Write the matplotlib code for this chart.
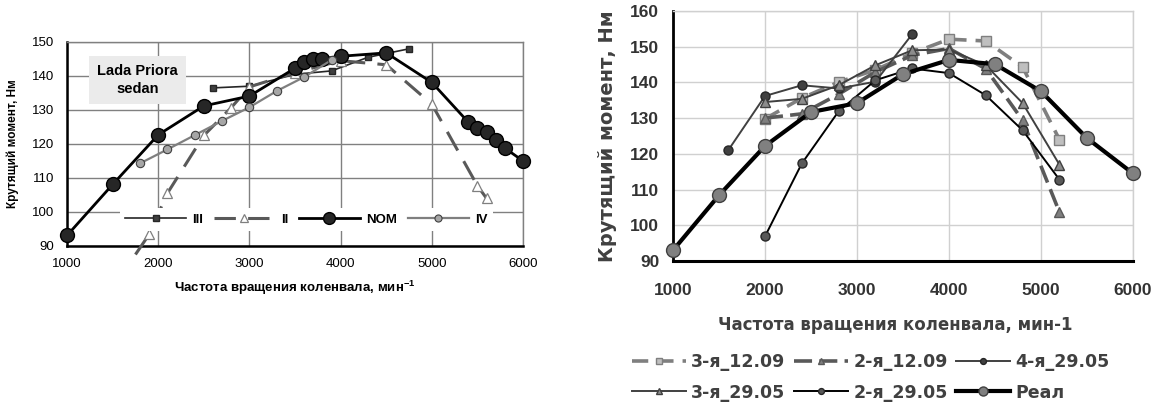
import matplotlib.pyplot as plt
import numpy as np

plt.rcParams['mathtext.fontset'] = 'custom'
plt.rcParams['mathtext.rm'] = 'Liberation Sans'
plt.rcParams['mathtext.bf'] = 'Liberation Sans:bold'

# ---- left chart: Lada Priora sedan
rpm_III = [2600, 3000, 3500, 3900, 4300, 4750]
tq_III = [136.5, 137.0, 140.5, 141.5, 145.5, 148.0]

rpm_II = [1750, 1900, 2100, 2500, 2800, 3000, 3500, 4000, 4500, 5000, 5500, 5600]
tq_II = [87.5, 93.4, 105.5, 122.5, 130.7, 136.8, 141.0, 144.5, 143.3, 131.7, 107.7, 104.0]

rpm_NOM = [1000, 1500, 2000, 2500, 3000, 3500, 3600, 3700, 3800, 4000, 4500,
           5000, 5400, 5500, 5600, 5700, 5800, 6000]
tq_NOM = [93.1, 108.1, 122.7, 131.2, 134.1, 142.3, 144.2, 145.1, 145.1, 145.8, 146.8,
          138.1, 126.4, 124.8, 123.5, 121.2, 118.8, 115.0]

rpm_IV = [1800, 2100, 2400, 2700, 3000, 3300, 3600, 3900]
tq_IV = [114.3, 118.4, 122.6, 126.8, 130.8, 135.6, 139.7, 144.7]

# ---- right chart
rpm_r = [2000, 2400, 2800, 3200, 3600, 4000, 4400, 4800, 5200]
tq_3_1209 = [129.8, 135.6, 140.1, 143.5, 148.2, 152.1, 151.6, 144.3, 124.0]
tq_2_1209 = [130.0, 131.2, 136.7, 142.9, 147.6, 149.5, 143.8, 129.4, 103.7]
tq_3_2905 = [134.5, 135.4, 139.2, 144.8, 149.0, 149.2, 144.8, 134.2, 117.0]
tq_2_2905 = [96.9, 117.3, 131.9, 140.6, 143.9, 142.6, 136.4, 126.6, 112.8]
rpm_4_2905 = [1600, 2000, 2400, 2800, 3200, 3600]
tq_4_2905 = [121.0, 136.2, 139.2, 138.3, 140.2, 153.5]
rpm_real = [1000, 1500, 2000, 2500, 3000, 3500, 4000, 4500, 5000, 5500, 6000]
tq_real = [93.0, 108.4, 122.2, 131.7, 134.2, 142.3, 146.3, 145.1, 137.5, 124.4, 114.5]

fig = plt.figure(figsize=(11.58, 4.05), dpi=100)

# ================= left =================
ax1 = fig.add_axes([0.0579, 0.3926, 0.3938, 0.5037])
lf = 'Liberation Sans'

ax1.plot(rpm_III, tq_III, color='#262626', lw=1.2, marker='s', ms=5,
         mfc='#404040', mec='#262626', label='III', zorder=3)
ax1.plot(rpm_II, tq_II, color='#595959', lw=2.2, dashes=(7, 4), marker='^', ms=7,
         mfc='white', mec='#7f7f7f', mew=0.9, label='II', clip_on=False,
         markevery=list(range(1, len(rpm_II))), zorder=3)
ax1.plot(rpm_NOM, tq_NOM, color='black', lw=2, marker='o', ms=10,
         mfc='#262626', mec='black', label='NOM', zorder=4, clip_on=False)
ax1.plot(rpm_IV, tq_IV, color='#7f7f7f', lw=1.6, marker='o', ms=6,
         mfc='#a6a6a6', mec='#404040', mew=0.8, label='IV', zorder=5)

ax1.set_xlim(1000, 6000)
ax1.set_ylim(90, 150)
ax1.set_xticks(np.arange(1000, 6001, 1000))
ax1.set_yticks(np.arange(90, 151, 10))
ax1.grid(True, color='#808080', lw=1)
ax1.set_axisbelow(True)
for s in ['top', 'right']:
    ax1.spines[s].set_color('#808080')
    ax1.spines[s].set_linewidth(1)
ax1.spines['left'].set_linewidth(1.8)
ax1.spines['bottom'].set_linewidth(1.8)
ax1.tick_params(length=0, labelsize=9.5, pad=9)
for t in ax1.get_xticklabels() + ax1.get_yticklabels():
    t.set_family(lf)

ax1.set_xlabel('Частота вращения коленвала, мин$^{\\mathbf{-1}}$', family=lf,
               fontweight='bold', fontsize=9.5, va='center')
ax1.xaxis.set_label_coords(0.5, -0.205)
ax1.set_ylabel('Крутящий момент, Нм', family=lf,
               fontweight='bold', fontsize=8.5, va='center')
ax1.yaxis.set_label_coords(-0.12, 0.5)

ax1.text(0.155, 0.815, 'Lada Priora\nsedan', transform=ax1.transAxes, family=lf,
         fontweight='bold', fontsize=10.5, ha='center', va='center', linespacing=1.35,
         bbox=dict(boxstyle='square,pad=0.55', fc='#ebebeb', ec='none'))

ax1.legend(loc='center', bbox_to_anchor=(0.525, 0.13), ncol=4, frameon=True,
           facecolor='white', edgecolor='none', framealpha=1, fancybox=False,
           handlelength=4.6, handletextpad=0.5, columnspacing=0.8, borderpad=0.4,
           markerscale=0.85, prop={'family': lf, 'weight': 'bold', 'size': 9.5})

# ================= right =================
ax2 = fig.add_axes([0.5812, 0.3556, 0.3972, 0.6173])
df = 'DejaVu Sans'

h1, = ax2.plot(rpm_r, tq_3_1209, color='#7f7f7f', lw=2.6, dashes=(4.5, 2.5), marker='s',
               ms=7, mfc='#bfbfbf', mec='#7f7f7f', label='3-я_12.09', zorder=3)
h2, = ax2.plot(rpm_r, tq_2_1209, color='#595959', lw=2.6, dashes=(5, 2), marker='^',
               ms=7.5, mfc='#7f7f7f', mec='#595959', label='2-я_12.09', zorder=3)
h3, = ax2.plot(rpm_4_2905, tq_4_2905, color='#404040', lw=1.4, marker='o', ms=6.5,
               mfc='#404040', mec='#262626', label='4-я_29.05', zorder=3)
h4, = ax2.plot(rpm_r, tq_3_2905, color='#404040', lw=1.4, marker='^', ms=7,
               mfc='#8c8c8c', mec='#404040', label='3-я_29.05', zorder=3)
h5, = ax2.plot(rpm_r, tq_2_2905, color='black', lw=1.4, marker='o', ms=6.5,
               mfc='#595959', mec='#262626', label='2-я_29.05', zorder=3)
h6, = ax2.plot(rpm_real, tq_real, color='black', lw=3, marker='o', ms=10,
               mfc='#808080', mec='#404040', label='Реал', zorder=4, clip_on=False)

ax2.set_xlim(1000, 6000)
ax2.set_ylim(90, 160)
ax2.set_xticks(np.arange(1000, 6001, 1000))
ax2.set_yticks(np.arange(90, 161, 10))
ax2.grid(True, color='#d0d0d0', lw=1)
ax2.set_axisbelow(True)
for s in ['top', 'right']:
    ax2.spines[s].set_color('#d0d0d0')
    ax2.spines[s].set_linewidth(1)
ax2.spines['left'].set_linewidth(2)
ax2.spines['bottom'].set_linewidth(2.2)
ax2.tick_params(length=0, labelsize=12.5, pad=10, labelcolor='#333333')
for t in ax2.get_xticklabels() + ax2.get_yticklabels():
    t.set_family('Liberation Sans')
    t.set_fontweight('bold')
ax2.tick_params(axis='x', pad=16)

ax2.set_xlabel('Частота вращения коленвала, мин-1', family=df, fontweight='bold',
               fontsize=12, color='#404040', va='center')
ax2.xaxis.set_label_coords(0.483, -0.256)
ax2.set_ylabel('Крутящий момент, Нм', family=df, fontweight='bold', fontsize=14,
               color='#404040', va='center')
ax2.yaxis.set_label_coords(-0.143, 0.5)

order = [h1, h4, h2, h5, h3, h6]
fig.legend(handles=order, labels=[h.get_label() for h in order], loc='center',
           bbox_to_anchor=(0.752, 0.068), ncol=3, frameon=False, handlelength=3.1,
           handletextpad=0.3, columnspacing=0.5, labelspacing=0.7, markerscale=0.65,
           prop={'family': df, 'weight': 'bold', 'size': 12.5}, labelcolor='#404040')

fig.savefig('out.png', dpi=100)
